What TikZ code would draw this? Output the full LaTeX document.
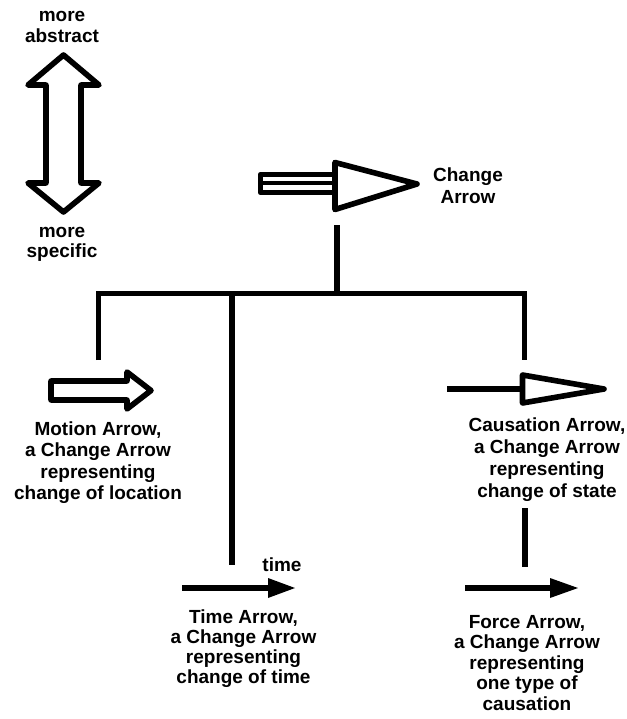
\documentclass[tikz,border=0pt]{standalone}
\usepackage{fontspec}
\setmainfont{Liberation Sans}
\begin{document}
\begin{tikzpicture}[x=1pt,y=-1pt,
  lbl/.style={font=\bfseries\fontsize{19}{#1}\selectfont, align=center, inner sep=0pt, anchor=base},
  lbl/.default=21,
  outline/.style={line width=5.6pt, line join=round},
  conn/.style={line width=5.5pt, line join=miter},
  shaftline/.style={line width=5.5pt},
  head/.style={fill=black, draw=none}]
\useasboundingbox[fill=white] (0,0) rectangle (626,719);

% vertical scale arrow
\draw[outline] (63.5,55) -- (99,85) -- (81,85) -- (81,183) -- (99,183) -- (63.5,212)
  -- (28,183) -- (46,183) -- (46,85) -- (28,85) -- cycle;
\node[lbl=21] (abs) at (62,43) {more\\abstract};
\node[lbl=20] (spec) at (62,257) {more\\specific};

% change arrow
\draw[outline] (334,174.5) -- (260.5,174.5) -- (260.5,192.5) -- (334,192.5);
\draw[line width=4pt] (260.5,183.5) -- (334,183.5);
\draw[outline] (335,162.5) -- (417,184) -- (335,209.5) -- cycle;
\node[lbl=21.5] (chg) at (468,203.2) {Change\\Arrow};

% tree
\coordinate (root) at (337,225);
\coordinate (rootbar) at (337,293.3);
\coordinate (lbar) at (98.7,293.3);
\coordinate (tbar) at (232,293.3);
\coordinate (rbar) at (524.5,293.3);
\coordinate (mtop) at (98.7,360);
\coordinate (ttop) at (232,565);
\coordinate (ctop) at (524.5,360);
\draw[conn] (root) -- (rootbar);
\draw[conn] (mtop) -- (lbar) -- (rbar) -- (ctop);
\draw[conn] (tbar) -- (ttop);

% motion arrow
\draw[outline] (51,381) -- (127,381) -- (127,372) -- (151,390.5) -- (127,409) -- (127,400)
  -- (51,400) -- cycle;
\node[lbl=21.5] (mot) at (98,499.5) {Motion Arrow,\\a Change Arrow\\representing\\change of location};

% causation arrow
\draw[shaftline] (447,389) -- (522.5,389);
\draw[outline] (522.5,375) -- (604,389) -- (522.5,403) -- cycle;
\node[lbl=22] (caus) at (547,497) {Causation Arrow,\\a Change Arrow\\representing\\change of state};
\coordinate (cbot) at (525,508);
\coordinate (ftop) at (525,567);
\draw[conn] (cbot) -- (ftop);

% time arrow
\draw[shaftline] (182,588) -- (270,588);
\fill[head] (268,578) -- (295,588) -- (268,598) -- cycle;
\node[lbl] (tlab) at (282,571) {time};
\node[lbl=20] (time) at (243.5,683) {Time Arrow,\\a Change Arrow\\representing\\change of time};

% force arrow
\draw[shaftline] (465,588) -- (552,588);
\fill[head] (550,578) -- (578,588) -- (550,598) -- cycle;
\node[lbl=20.5] (force) at (527,710) {Force Arrow,\\a Change Arrow\\representing\\one type of\\causation};
\end{tikzpicture}
\end{document}
